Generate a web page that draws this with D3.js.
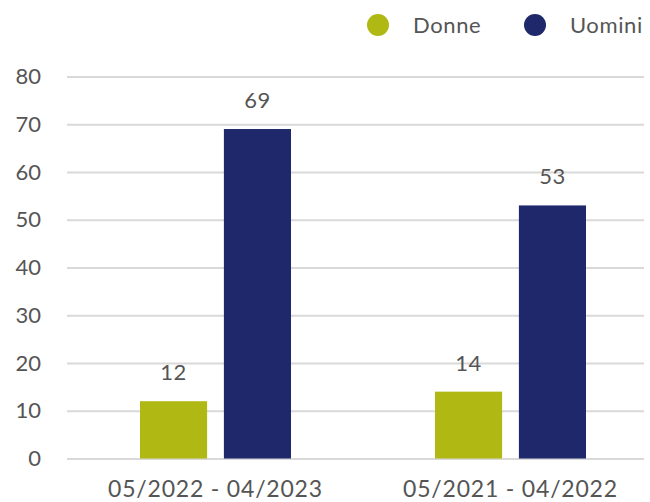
<!DOCTYPE html>
<html>
<head>
<meta charset="utf-8">
<script src="https://cdn.jsdelivr.net/npm/d3@7"></script>
<style>
  body { margin: 0; background: #fff; }
  text { font-family: Lato, "Open Sans", sans-serif; fill: #555; }
</style>
</head>
<body>
<svg id="chart"></svg>
<script>
// data
const periods = ["05/2022 - 04/2023", "05/2021 - 04/2022"];
const seriesNames = ["Donne", "Uomini"];
const donne = [12, 14];
const uomini = [69, 53];
const yTicks = [0, 10, 20, 30, 40, 50, 60, 70, 80];
const colors = ["#b0b813", "#1f286b"];

const width = 650, height = 502;
const svg = d3.select("#chart").attr("width", width).attr("height", height);

// scales
const x0 = d3.scaleBand().domain(periods).range([68, 658]).padding(0);
const x1 = d3.scaleBand().domain(seriesNames).range([0, 151]).paddingInner(0.2).paddingOuter(0);
const y = d3.scaleLinear().domain([0, 80]).range([458.5, 76.5]);
const color = d3.scaleOrdinal().domain(seriesNames).range(colors);

// gridlines
svg.append("g")
    .attr("transform", "translate(67,0)")
    .call(d3.axisLeft(y).tickValues(yTicks).tickSize(-577).tickFormat(""))
    .call(g => g.select(".domain").remove())
    .selectAll("line")
    .attr("stroke", "#d9d9d9")
    .attr("stroke-width", 2);

// y tick labels
svg.append("g")
    .attr("transform", "translate(41,0)")
    .call(d3.axisLeft(y).tickValues(yTicks).tickSize(0).tickPadding(0))
    .call(g => g.select(".domain").remove())
    .selectAll("text")
    .style("font-size", "22px")
    .style("font-family", null)
    .attr("fill", "#555");

// bars
const rows = periods.map((p, i) => ({ period: p, values: [
    { name: "Donne", value: donne[i] },
    { name: "Uomini", value: uomini[i] }
]}));

const groups = svg.append("g").selectAll("g")
    .data(rows)
    .enter().append("g")
    .attr("transform", d => "translate(" + (x0(d.period) + (x0.bandwidth() - 151) / 2) + ",0)");

groups.selectAll("rect")
    .data(d => d.values)
    .enter().append("rect")
    .attr("x", d => x1(d.name))
    .attr("y", d => y(d.value))
    .attr("width", x1.bandwidth())
    .attr("height", d => y(0) - y(d.value))
    .attr("fill", d => color(d.name));

groups.selectAll("text")
    .data(d => d.values)
    .enter().append("text")
    .attr("x", d => x1(d.name) + x1.bandwidth() / 2)
    .attr("y", d => y(d.value) - 21)
    .attr("text-anchor", "middle")
    .style("font-size", "22px")
    .style("letter-spacing", "0.5px")
    .text(d => d.value);

// x labels
svg.append("g").selectAll("text")
    .data(periods)
    .enter().append("text")
    .attr("x", d => x0(d) + x0.bandwidth() / 2)
    .attr("y", 497)
    .attr("text-anchor", "middle")
    .style("font-size", "23px")
    .style("letter-spacing", "0.8px")
    .text(d => d);

// legend
const legendX = [378, 535];
const legend = svg.append("g").selectAll("g")
    .data(seriesNames)
    .enter().append("g")
    .attr("transform", (d, i) => "translate(" + legendX[i] + ",25)");
legend.append("circle").attr("r", 11).attr("fill", d => color(d));
legend.append("text")
    .attr("x", 35)
    .attr("dy", "0.35em")
    .style("font-size", "22px")
    .style("letter-spacing", "0.6px")
    .text(d => d);
</script>
</body>
</html>
